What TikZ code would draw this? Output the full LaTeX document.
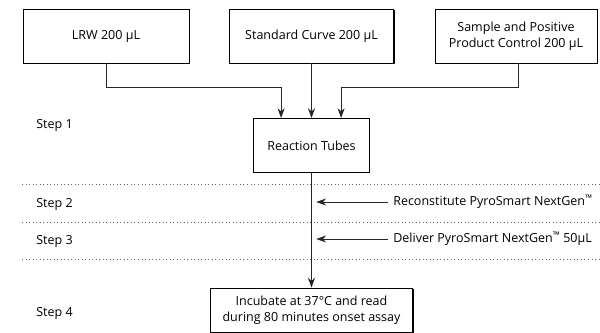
\documentclass[tikz,border=0pt]{standalone}
\usepackage{fontspec}
\setmainfont{Open Sans}
\usetikzlibrary{arrows.meta, positioning, shadows}
\tikzset{%
    block/.style = {draw=black, fill=white, rectangle, line width=0.6pt,
        drop shadow={shadow xshift=0.7pt, shadow yshift=-0.7pt, fill=black, opacity=1},
        minimum height=1.35cm, align=center, inner sep=2pt},
    conn/.style = {draw=black!85, line width=0.6pt, -{Stealth[length=7pt,width=5pt]}},
    stepline/.style = {draw=black!60, line width=0.5pt, dotted},
    steplabel/.style = {anchor=west, inner sep=0pt}
}
\newcommand{\tmark}{\raisebox{0.3em}{\fontsize{6.5}{6}\selectfont ™}}

\begin{document}
\begin{tikzpicture}[x=0.025cm, y=-0.025cm,
    font=\fontsize{8.9}{11.5}\selectfont
  ]
    \useasboundingbox (0,0) rectangle (600,333);
    \node [block, minimum width=4.15cm] (lrw) at (106,36) {LRW 200 µL};
    \node [block, minimum width=4.1cm] (std) at (311.5,36) {Standard Curve 200 µL};
    \node [block, minimum width=4.05cm] (spc) at (516,36) {Sample and Positive\\ Product Control 200 µL};
    \node [block, minimum width=2.88cm] (rt) at (311.5,145.5) {Reaction Tubes};
    \node [block, minimum width=5.05cm, minimum height=1.1cm] (inc) at (311.5,310)
        {Incubate at 37°C and read\\ during 80 minutes onset assay};
    % step labels
    \node [steplabel] (s1) at (36,125) {Step 1};
    \node [steplabel] (s2) at (36,204) {Step 2};
    \node [steplabel] (s3) at (36,241) {Step 3};
    \node [steplabel] (s4) at (36,313) {Step 4};
    \node [steplabel] (recon) at (393,202) {Reconstitute PyroSmart NextGen\tmark};
    \node [steplabel] (deliv) at (393,239) {Deliver PyroSmart NextGen\tmark{} 50µL};
    % separators
    \foreach \y in {184,222,259}
        \draw [stepline] (22,\y) -- (600,\y);
    % connectors
    \draw [conn] (lrw.south) -- ++(0,24) -| ([xshift=-0.76cm]rt.north);
    \draw [conn] (std.south) -- (rt.north);
    \draw [conn] ([xshift=0.06cm]spc.south) -- ++(0,24) -| ([xshift=0.74cm]rt.north);
    \draw [conn] (rt.south) -- (inc.north);
    \draw [conn, shorten <=0.13cm, shorten >=0.12cm] (recon.west) -- (recon.west -| rt.south);
    \draw [conn, shorten <=0.13cm, shorten >=0.12cm] (deliv.west) -- (deliv.west -| rt.south);
\end{tikzpicture}
\end{document}
